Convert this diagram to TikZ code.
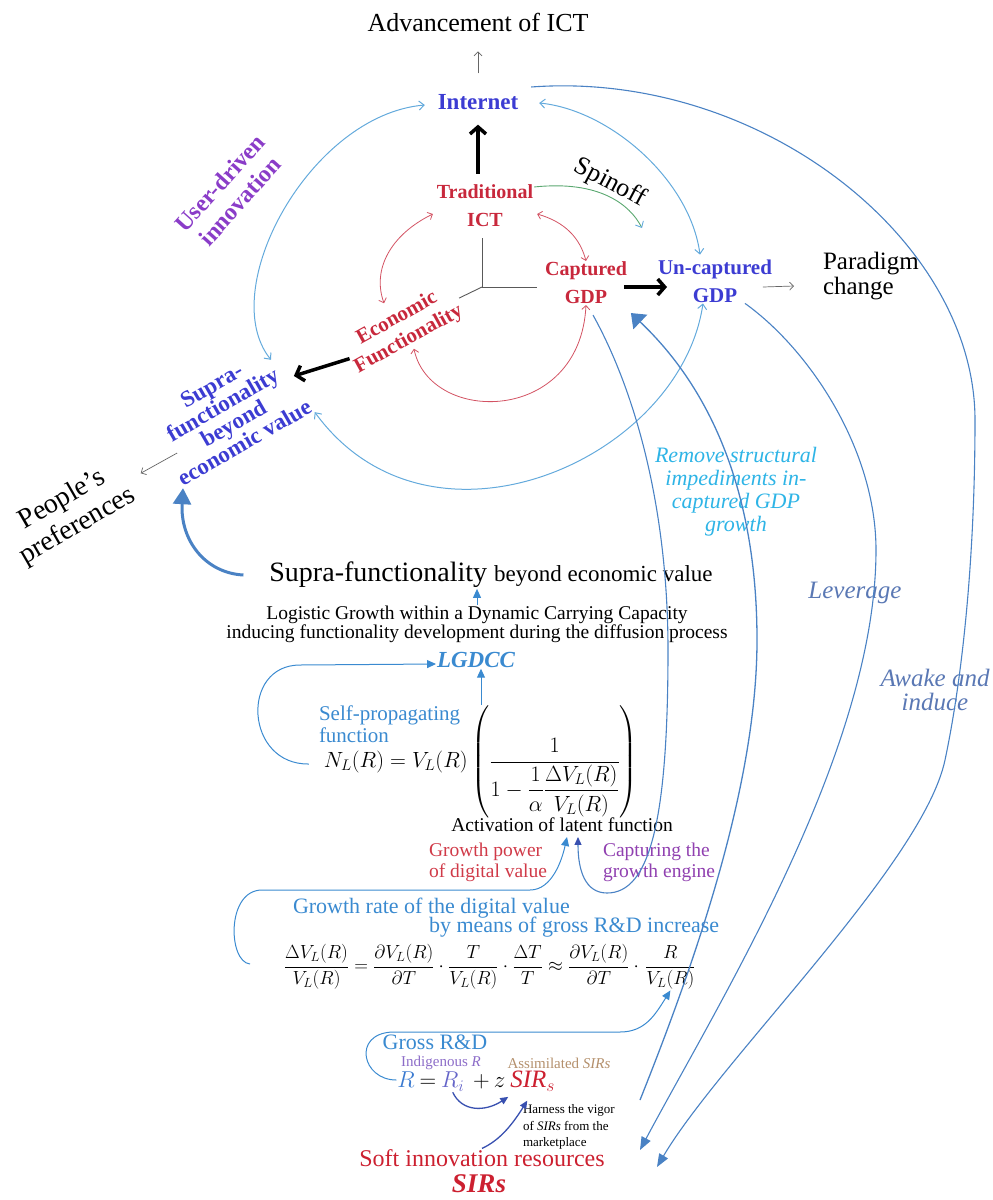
\documentclass[tikz,border=0pt]{standalone}
\usepackage{fix-cm}
\usepackage{amsmath}
\usepackage{fontspec}
\setmainfont{Liberation Serif}
\usepackage{tikz}
\usetikzlibrary{arrows.meta,calc,positioning}
\definecolor{ictred}{HTML}{C8283C}
\definecolor{netblue}{HTML}{3C3CD2}
\definecolor{userpurple}{HTML}{8A3CC8}
\definecolor{arcblue}{HTML}{64AADC}
\definecolor{bigblue}{HTML}{4A82C4}
\definecolor{textblue}{HTML}{3A8AD0}
\definecolor{removecyan}{HTML}{2EB4E6}
\definecolor{leverblue}{HTML}{5A78B4}
\definecolor{powred}{HTML}{D03A48}
\definecolor{capturpurple}{HTML}{9040B0}
\definecolor{indigpurple}{HTML}{8C6CC8}
\definecolor{assimtan}{HTML}{B4906C}
\definecolor{spingreen}{HTML}{5AA870}
\definecolor{darkarrow}{HTML}{3850B0}
\definecolor{rblue}{HTML}{3A7AD0}
\definecolor{riblue}{HTML}{6464C8}
\definecolor{sirred}{HTML}{CC2030}
\newcommand{\fsz}[2]{\fontsize{#1}{#2}\selectfont}
\tikzstyle{lbl}=[inner sep=1pt, outer sep=0pt, align=center]
\tikzstyle{redlbl}=[lbl, text=ictred, font=\bfseries\fsz{20}{28}]
\tikzstyle{bluelbl}=[lbl, text=netblue, font=\bfseries\fsz{21}{28}]
\tikzstyle{blacklbl}=[lbl, text=black]
\tikzstyle{graylink}=[draw=gray!80!black, line width=0.7pt, -{Straight Barb[length=4pt,width=8pt]}]
\tikzstyle{fatlink}=[draw=black, line width=3.5pt, -{Straight Barb[length=7pt,width=16pt]}]
\tikzstyle{redlink}=[draw=ictred!80, line width=0.8pt, {Straight Barb[length=4pt,width=8pt]}-{Straight Barb[length=4pt,width=8pt]}]
\tikzstyle{arclink}=[draw=arcblue, line width=1pt, {Straight Barb[length=5pt,width=9pt]}-{Straight Barb[length=5pt,width=9pt]}]
\tikzstyle{axisline}=[draw=gray!70!black, line width=0.9pt]
\tikzstyle{biglink}=[draw=bigblue, line width=1.1pt, -{Triangle[length=13pt,width=10pt]}]
\tikzstyle{levlink}=[draw=bigblue, line width=1.3pt, -{Triangle[length=13pt,width=20pt]}]
\tikzstyle{looplink}=[draw=textblue, line width=1pt, -{Triangle[length=9pt,width=8pt]}]
\tikzstyle{darklink}=[draw=darkarrow, line width=1.3pt, -{Triangle[length=8pt,width=7pt]}]
\tikzstyle{fatblue}=[draw=bigblue, line width=3pt, -{Triangle[length=16pt,width=18pt]}]

\begin{document}
\begin{tikzpicture}[x=1pt, y=-1pt]
    \useasboundingbox (0,0) rectangle (993,1200);
    % the ICT cycle
    \node[blacklbl, font=\rmfamily\fsz{26}{30}] (adv) at (478,22) {Advancement of ICT};
    \node[bluelbl, font=\bfseries\fsz{23}{28}] (net) at (478,102) {Internet};
    \node[redlbl] (trad) at (485,206) {Traditional\\ICT};
    \node[redlbl] (capt) at (586,283) {Captured\\GDP};
    \node[bluelbl] (uncapt) at (715,281) {Un-captured\\GDP};
    \node[blacklbl, anchor=west, align=left, font=\rmfamily\fsz{25}{25}] (para) at (822,276) {Paradigm\\change};
    \node[redlbl, font=\bfseries\fsz{21}{24}, rotate=29] (econ) at (403,329) {Economic\\Functionality};
    \node[bluelbl, font=\bfseries\fsz{23}{22}, rotate=30] (supra) at (228,414) {Supra-\\functionality\\beyond\\economic value};
    \node[blacklbl, font=\rmfamily\fsz{28}{31}, rotate=30] (people) at (70,513) {People's\\preferences};
    \node[lbl, text=userpurple, font=\bfseries\fsz{24}{27}, rotate=48] (user) at (230,192) {User-driven\\innovation};
    \node[blacklbl, font=\rmfamily\fsz{26}{28}, rotate=-28] (spin) at (610,183) {Spinoff};
    \node[lbl, text=removecyan, font=\itshape\fsz{22}{23}] (remove) at (736,492) {Remove structural\\impediments in-\\captured GDP\\growth};
    \node[lbl, text=leverblue, font=\itshape\fsz{25}{25}] (lever) at (855,593) {Leverage};
    \node[lbl, text=leverblue, font=\itshape\fsz{25}{24}] (awake) at (935,690) {Awake and\\induce};
    \coordinate (hub) at (482,287);
    \coordinate (spinend) at (642,228);

    % the growth equations
    \node[blacklbl] (suprab) at (491,575) {{\fsz{28}{30}Supra-functionality }{\fsz{23}{30}beyond economic value}};
    \node[blacklbl, font=\fsz{19.5}{19}] (logi) at (477,624) {Logistic Growth within a Dynamic Carrying Capacity\\inducing functionality development during the diffusion process};
    \node[lbl, text=textblue, font=\bfseries\itshape\fsz{23}{26}] (lgdcc) at (476,660) {LGDCC};
    \node[lbl, text=textblue, anchor=west, align=left, font=\fsz{21}{22}] (selfp) at (318,724) {Self-propagating\\function};
    \node[blacklbl, font=\fsz{22}{26}] (nleq) at (481,762) {$N_L(R)=V_L(R)\left(\dfrac{1}{1-\dfrac{1}{\alpha}\dfrac{\Delta V_L(R)}{V_L(R)}}\right)$};
    \node[blacklbl, font=\fsz{19.5}{22}] (activ) at (562,825) {Activation of latent function};
    \node[lbl, text=powred, anchor=west, align=left, font=\fsz{19.5}{21}] (gpow) at (428,862) {Growth power\\of digital value};
    \node[lbl, text=capturpurple, anchor=west, align=left, font=\fsz{19.5}{21}] (captur) at (602,862) {Capturing the\\growth engine};
    \node[lbl, text=textblue, anchor=west, font=\fsz{22}{24}] (grate) at (292,908) {Growth rate of the digital value};
    \node[lbl, text=textblue, anchor=west, font=\fsz{22}{24}] (gmeans) at (428,927) {by means of gross R\&D increase};
    \node[blacklbl, anchor=west, font=\fsz{19}{22}] (dveq) at (283,967) {$\dfrac{\Delta V_L(R)}{V_L(R)}=\dfrac{\partial V_L(R)}{\partial T}\cdot\dfrac{T}{V_L(R)}\cdot\dfrac{\Delta T}{T}\approx\dfrac{\partial V_L(R)}{\partial T}\cdot{}$};
    \node[blacklbl, anchor=base west, font=\fsz{19}{22}] (rfrac) at (dveq.base east) {$\dfrac{R}{V_L(R)}$};

    % gross R&D
    \node[lbl, text=textblue, font=\fsz{22}{24}] (gross) at (435,1042) {Gross R\&D};
    \node[lbl, text=indigpurple, font=\fsz{15}{17}] (indig) at (441,1063) {Indigenous \textit{R}};
    \node[lbl, text=assimtan, font=\fsz{15}{17}] (assim) at (559,1063) {Assimilated \textit{SIRs}};
    \node[lbl, text=rblue, font=\fsz{23}{24}] (rtot) at (406,1080) {$R$};
    \node[lbl, font=\fsz{23}{24}, base right=3pt of rtot] (eqsign) {$=$};
    \node[lbl, text=riblue, font=\fsz{23}{24}, base right=3pt of eqsign] (rind) {$R_i$};
    \node[lbl, font=\fsz{23}{24}, base right=7pt of rind] (plus) {$+$};
    \node[lbl, font=\fsz{23}{24}, base right=2pt of plus] (zfac) {$z$};
    \node[lbl, text=sirred, font=\fsz{25}{26}, base right=3pt of zfac] (sirs) {$\mathit{SIR}_s$};
    \node[blacklbl, anchor=west, align=left, font=\fsz{13}{16.5}] (harn) at (522,1127) {Harness the vigor\\of \textit{SIRs} from the\\marketplace};
    \node[lbl, text=sirred, font=\fsz{24}{26}] (soft) at (482,1158) {Soft innovation resources};
    \node[lbl, text=sirred, font=\bfseries\itshape\fsz{27}{28}] (sirbig) at (479,1184) {SIRs};
    \coordinate (tipa) at (640,1150);
    \coordinate (tipb) at (657,1167);
    \coordinate (levstart) at (640,1100);

    % links of the cycle
    \draw[graylink, shorten <=20pt, shorten >=19pt] (net.north) -- (adv.south);
    \draw[fatlink, shorten <=10pt, shorten >=14pt] (net.south |- trad.north) -- (net.south);
    \draw[draw=spingreen, line width=0.9pt, -{Straight Barb[length=5pt,width=9pt,color=arcblue]}] ($(trad.east)+(0,-19)$) .. controls (600,180) and (630,205) .. (spinend);
    \draw[redlink] ($(trad.west)+(-3,8)$) .. controls (390,235) and (372,270) .. ($(econ.north)+(-8,-6)$);
    \draw[redlink] ($(trad.east)+(3,8)$) .. controls (565,222) and (580,238) .. (capt.north);
    \draw[redlink] (econ.south) .. controls (430,425) and (580,425) .. (capt.south);
    \draw[axisline, shorten >=10pt] (hub) -- (hub |- trad.south);
    \draw[axisline, shorten >=7pt] (hub) -- (hub -| capt.west);
    \draw[axisline, shorten >=3pt] (hub) -- (econ.east);
    \draw[fatlink] ($(capt.east)+(-4,4)$) -- ($(uncapt.west)+(10,6)$);
    \draw[fatlink] (econ.west) -- (supra.east);
    \draw[graylink] ($(uncapt.east)+(-10,6)$) -- ($(para.west)+(-28,10)$);
    \draw[graylink] ($(supra.west)+(15,1)$) -- ($(people.east)+(14,-7)$);
    \draw[arclink] ($(net.west)+(-12,3)$) .. controls (310,115) and (215,290) .. ($(supra.north east)+(-2,20)$);
    \draw[arclink] ($(net.east)+(20,1)$) .. controls (610,110) and (690,180) .. ($(uncapt.north)+(-15,-4)$);
    \draw[arclink] ($(uncapt.south)+(-12,0)$) .. controls (680,460) and (430,570) .. (supra.south east);

    % long links
    \draw[biglink] ($(net.east)+(12,-15)$) .. controls (760,70) and (975,240) .. (975,420) .. controls (975,560) and (962,680) .. (945,760) .. controls (923,864) and (720,1060) .. (tipb);
    \draw[biglink] ($(uncapt.south east)+(-28,0)$) .. controls (810,350) and (876,450) .. (876,550) .. controls (876,750) and (720,1000) .. (tipa);
    \draw[levlink] (levstart) .. controls (700,950) and (757,780) .. (757,640) .. controls (757,450) and (680,360) .. ($(capt.south east)+(3,8)$);
    \draw[draw=bigblue, line width=1.1pt, -{Triangle[length=8pt,width=7pt,color=darkarrow]}] ($(capt.south)+(7,10)$) .. controls (640,400) and (668,520) .. (668,650) .. controls (668,820) and (650,893) .. (607,893) .. controls (585,893) and (578,870) .. ($(activ.south)+(16,4)$);

    % links of the equations
    \draw[looplink] ($(dveq.west)+(-33,-3)$) .. controls (228,962) and (226,890) .. (262,890) -- (530,890) .. controls (552,890) and (562,860) .. ($(activ.south)+(5,4)$);
    \draw[looplink] ($(nleq.west)+(-14,2)$) .. controls (245,765) and (240,665) .. (300,665) -- ($(lgdcc.west)+(0,4)$);
    \draw[looplink] (nleq.north) -- (nleq.north |- lgdcc.south);
    \draw[looplink] (logi.north) -- (logi.north |- suprab.south);
    \draw[fatblue] ($(suprab.west)+(-25,0)$) .. controls (205,573) and (180,540) .. (supra.south west);
    \draw[looplink] (rtot.west) .. controls (362,1080) and (352,1034) .. (392,1032) -- (620,1032) .. controls (645,1032) and (655,1015) .. (rfrac.south);
    \draw[darklink] (rind.south) .. controls (462,1112) and (485,1112) .. ($(zfac.south east)+(2,8)$);
    \draw[darklink] (soft.north) .. controls (500,1140) and (512,1125) .. ($(sirs.south west)+(18,8)$);
\end{tikzpicture}
\end{document}
